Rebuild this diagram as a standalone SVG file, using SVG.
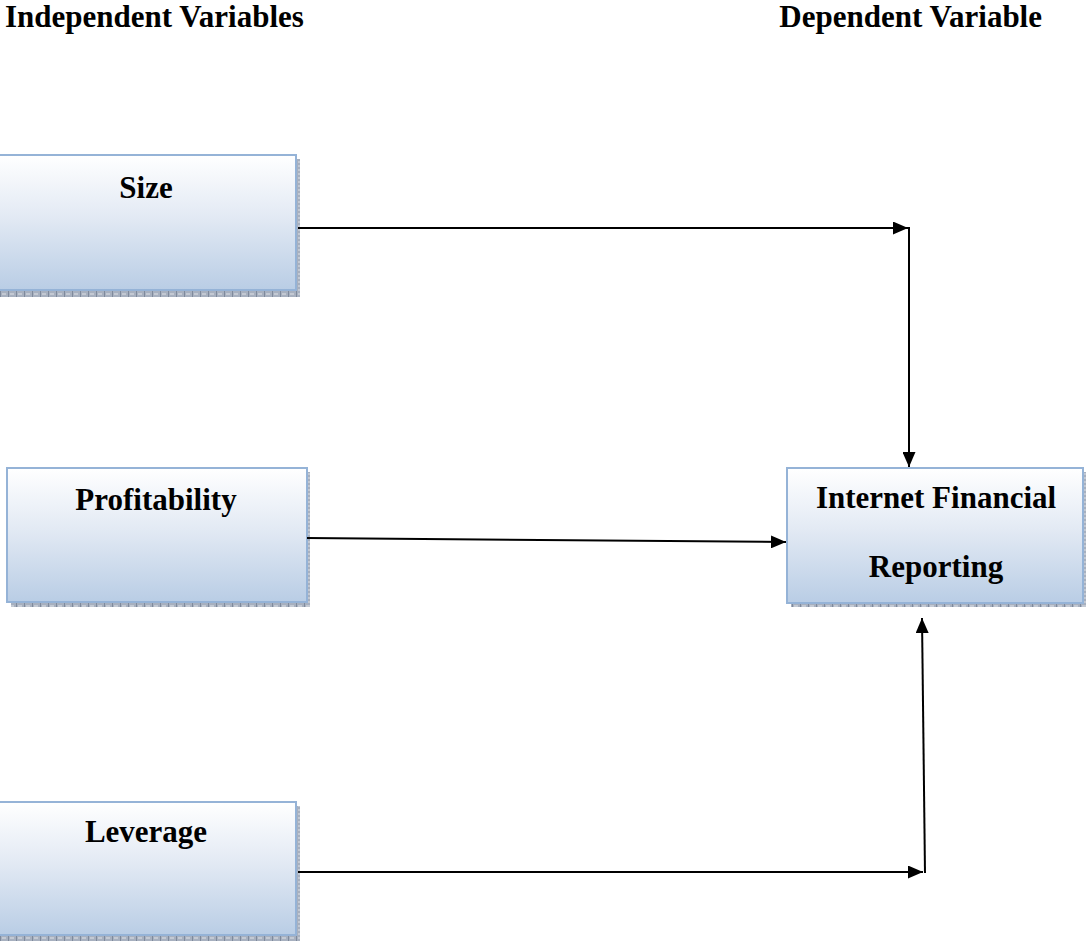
<svg xmlns="http://www.w3.org/2000/svg" width="1086" height="941" viewBox="0 0 1086 941">
<defs>
<linearGradient id="g" x1="0" y1="0" x2="0" y2="1">
<stop offset="0" stop-color="#ffffff"/>
<stop offset="0.45" stop-color="#e3eaf4"/>
<stop offset="1" stop-color="#b9cde5"/>
</linearGradient>
<pattern id="sh" width="8" height="4" patternUnits="userSpaceOnUse">
<rect width="8" height="4" fill="#a7b0bf"/>
<rect x="0" y="0" width="1" height="4" fill="#7f8a9c"/>
<rect x="2" y="1" width="4" height="2" fill="#c3c9d3"/>
</pattern>
<marker id="ah" viewBox="0 0 15 13" refX="15" refY="6.5" markerWidth="15" markerHeight="13" markerUnits="userSpaceOnUse" orient="auto">
<path d="M0,0 L15,6.5 L0,13 Z" fill="#000"/>
</marker>
</defs>
<style>
.box{fill:url(#g);stroke:#95b3d7;stroke-width:2}
.shadow{fill:url(#sh)}
.t{font-family:"Liberation Serif","Times New Roman",serif;font-weight:bold;font-size:31px;fill:#000}
.c{stroke:#000;stroke-width:2;fill:none}
</style>
<rect width="1086" height="941" fill="#fff"/>
<text class="t" x="5" y="27">Independent Variables</text>
<text class="t" x="1042" y="27" text-anchor="end">Dependent Variable</text>

<g id="size">
<rect class="shadow" x="0" y="159" width="300" height="138"/>
<rect class="box" x="-4" y="155" width="300" height="135"/>
<text class="t" x="146" y="198" text-anchor="middle">Size</text>
</g>
<g id="profitability">
<rect class="shadow" x="11" y="472" width="299" height="135"/>
<rect class="box" x="7" y="468" width="300" height="134"/>
<text class="t" x="156" y="510" text-anchor="middle">Profitability</text>
</g>
<g id="leverage">
<rect class="shadow" x="0" y="806" width="300" height="135"/>
<rect class="box" x="-4" y="802" width="300" height="133"/>
<text class="t" x="146" y="842" text-anchor="middle">Leverage</text>
</g>
<g id="ifr">
<rect class="shadow" x="791" y="472" width="296" height="135"/>
<rect class="box" x="787" y="468" width="296" height="135"/>
<text class="t" x="936" y="508" text-anchor="middle">Internet Financial</text>
<text class="t" x="936" y="577" text-anchor="middle">Reporting</text>
</g>

<g id="connectors">
<line class="c" x1="298" y1="228" x2="908" y2="228" marker-end="url(#ah)"/>
<line class="c" x1="909" y1="227" x2="909" y2="467" marker-end="url(#ah)"/>
<line class="c" x1="307" y1="538" x2="786" y2="542" marker-end="url(#ah)"/>
<line class="c" x1="298" y1="872" x2="923" y2="872" marker-end="url(#ah)"/>
<line class="c" x1="925" y1="873" x2="922" y2="618" marker-end="url(#ah)"/>
</g>
</svg>
